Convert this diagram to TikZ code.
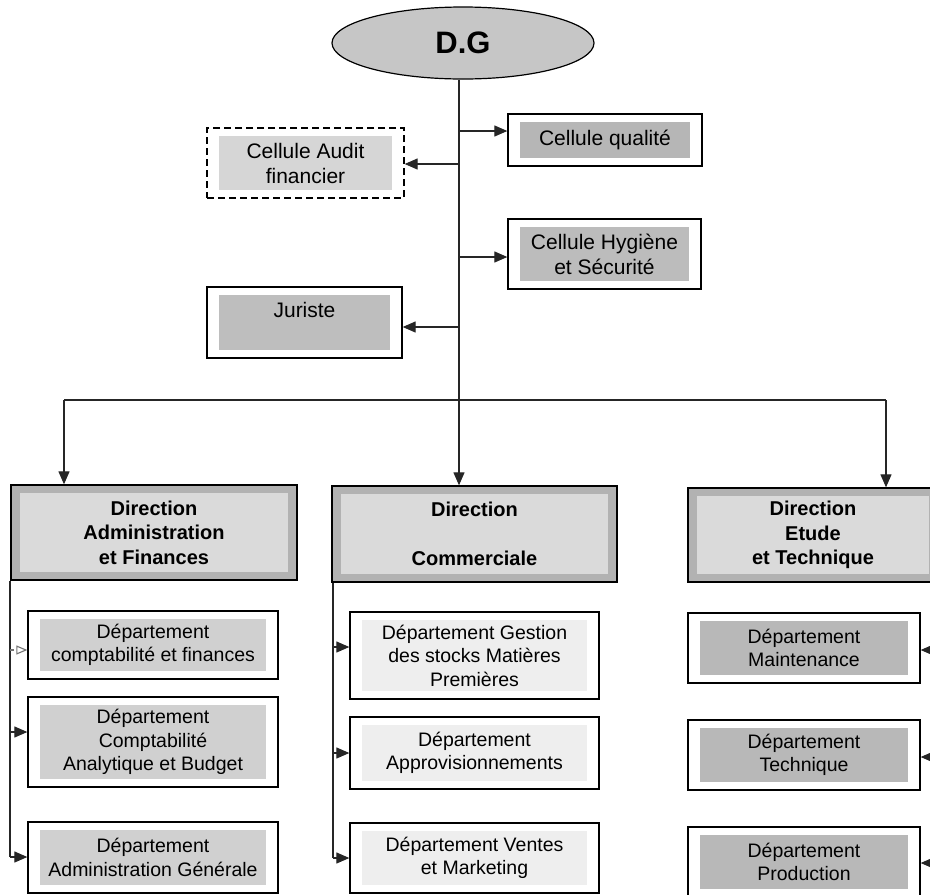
\documentclass[tikz,border=0pt]{standalone}
\usepackage{fontspec}
\setmainfont{Liberation Sans}
\usetikzlibrary{arrows.meta,shapes.geometric}
\definecolor{cEll}{HTML}{C6C6C6}
\definecolor{cQual}{HTML}{B6B6B6}
\definecolor{cAud}{HTML}{D6D6D6}
\definecolor{cHyg}{HTML}{BCBCBC}
\definecolor{cJur}{HTML}{BEBEBE}
\definecolor{cDirF}{HTML}{B2B2B2}
\definecolor{cDirI}{HTML}{DADADA}
\definecolor{cLeft}{HTML}{D0D0D0}
\definecolor{cMid}{HTML}{EEEEEE}
\definecolor{cRight}{HTML}{B8B8B8}
\begin{document}
\begin{tikzpicture}[x=1pt,y=-1pt,
  conn/.style={line width=1.2pt,draw=black!85},
  arr/.style={conn,-{Triangle[length=13pt,width=11pt]}},
  shadebox/.style={path picture={\fill[#1] ([shift={(12,8)}]path picture bounding box.north west) rectangle ([shift={(-12,-8)}]path picture bounding box.south east);}},
  dirinset/.style={path picture={\fill[#1] ([shift={(9,8)}]path picture bounding box.north west) rectangle ([shift={(-9,-8)}]path picture bounding box.south east);}},
  cell/.style={draw=black, line width=1.3pt, fill=white, inner sep=0pt, align=center, font=\fontsize{21}{25}\selectfont},
  dept/.style={draw=black, line width=1.3pt, fill=white, inner sep=0pt, align=center, font=\fontsize{19.5}{23.5}\selectfont},
  dirbox/.style={draw=black, line width=1.3pt, fill=cDirF, dirinset=cDirI, inner sep=0pt, align=center, font=\fontsize{20}{24.5}\selectfont\bfseries}
]
\useasboundingbox (0,0) rectangle (930,895);
\clip (0,0) rectangle (930,895);

% top
\node[ellipse, draw=black, line width=1.2pt, fill=cEll, minimum width=262, minimum height=72, inner sep=0pt, font=\fontsize{31}{31}\selectfont\bfseries] (dg) at (463,43) {D.G};

\node[cell, shadebox=cQual, minimum width=194, minimum height=52] (qual) at (605,140) {Cellule qualité};
\node[cell, dash pattern=on 7pt off 4pt, shadebox=cAud, minimum width=197, minimum height=70] (audit) at (305.5,163) {Cellule Audit\\financier};
\node[cell, shadebox=cHyg, minimum width=193, minimum height=70] (hyg) at (604.5,254) {Cellule Hygiène\\et Sécurité};
\node[cell, shadebox=cJur, minimum width=195, minimum height=71] (jur) at (304.5,322.5) {Juriste\\\mbox{}};

% directions
\node[dirbox, minimum width=286, minimum height=95] (dA) at (154,532.5) {Direction\\Administration\\et Finances};
\node[dirbox, minimum width=285, minimum height=96] (dC) at (474.5,534) {Direction\\\mbox{}\\Commerciale};
\node[dirbox, minimum width=250, minimum height=94] (dE) at (813,535) {Direction\\Etude\\et Technique};

% departments left
\node[dept, shadebox=cLeft, minimum width=250, minimum height=68] (a1) at (153,645) {Département\\comptabilité et finances};
\node[dept, shadebox=cLeft, minimum width=250, minimum height=90] (a2) at (153,742) {Département\\Comptabilité\\Analytique et Budget};
\node[dept, shadebox=cLeft, minimum width=250, minimum height=71] (a3) at (153,857.5) {Département\\Administration Générale};

% departments middle
\node[dept, shadebox=cMid, minimum width=249, minimum height=87] (c1) at (474.5,655.5) {Département Gestion\\des stocks Matières\\Premières};
\node[dept, shadebox=cMid, minimum width=249, minimum height=72] (c2) at (474.5,753) {Département\\Approvisionnements};
\node[dept, shadebox=cMid, minimum width=249, minimum height=70] (c3) at (474.5,858) {Département Ventes\\et Marketing};

% departments right
\node[dept, shadebox=cRight, minimum width=232, minimum height=70] (e1) at (804,648) {Département\\Maintenance};
\node[dept, shadebox=cRight, minimum width=232, minimum height=70] (e2) at (804,755) {Département\\Technique};
\node[dept, shadebox=cRight, minimum width=232, minimum height=70] (e3) at (804,862) {Département\\Production};

% trunk
\coordinate (h) at (459,400);
\coordinate (hl) at (64,400);
\coordinate (hr) at (886,400);
\draw[conn] (dg.south -| h) -- (h);
\draw[conn] (hl) -- (hr);
\draw[arr] (hl) -- (hl |- dA.north);
\draw[arr] (h) -- (h |- dC.north);
\draw[arr] (hr) -- (hr |- dE.north);

% cells
\coordinate (t1) at (459,131);
\coordinate (t2) at (459,164);
\coordinate (t3) at (459,257);
\coordinate (t4) at (459,327);
\draw[arr] (t1) -- (t1 -| qual.west);
\draw[arr] (t2) -- (t2 -| audit.east);
\draw[arr] (t3) -- (t3 -| hyg.west);
\draw[arr] (t4) -- (t4 -| jur.east);

% left column ties
\coordinate (la1) at (10,650);
\coordinate (la2) at (10,732);
\coordinate (la3) at (10,857);
\draw[conn] (la3 |- dA.south) -- (la3);
\draw[black!55, line width=1.1pt, dash pattern=on 4pt off 3pt, -{Triangle[open,length=11pt,width=9pt]}] (la1) -- (la1 -| a1.west);
\draw[arr] (la2) -- (la2 -| a2.west);
\draw[arr] (la3) -- (la3 -| a3.west);

% middle column ties
\coordinate (lc1) at (333,647);
\coordinate (lc2) at (333,753);
\coordinate (lc3) at (333,858);
\draw[conn] (lc3 |- dC.south) -- (lc3);
\draw[arr] (lc1) -- (lc1 -| c1.west);
\draw[arr] (lc2) -- (lc2 -| c2.west);
\draw[arr] (lc3) -- (lc3 -| c3.west);

% right column ties
\coordinate (le1) at (936,650);
\coordinate (le2) at (936,757);
\coordinate (le3) at (936,863);
\draw[conn] (le3 |- dE.south) -- (le3);
\draw[arr] (le1) -- (le1 -| e1.east);
\draw[arr] (le2) -- (le2 -| e2.east);
\draw[arr] (le3) -- (le3 -| e3.east);
\end{tikzpicture}
\end{document}
